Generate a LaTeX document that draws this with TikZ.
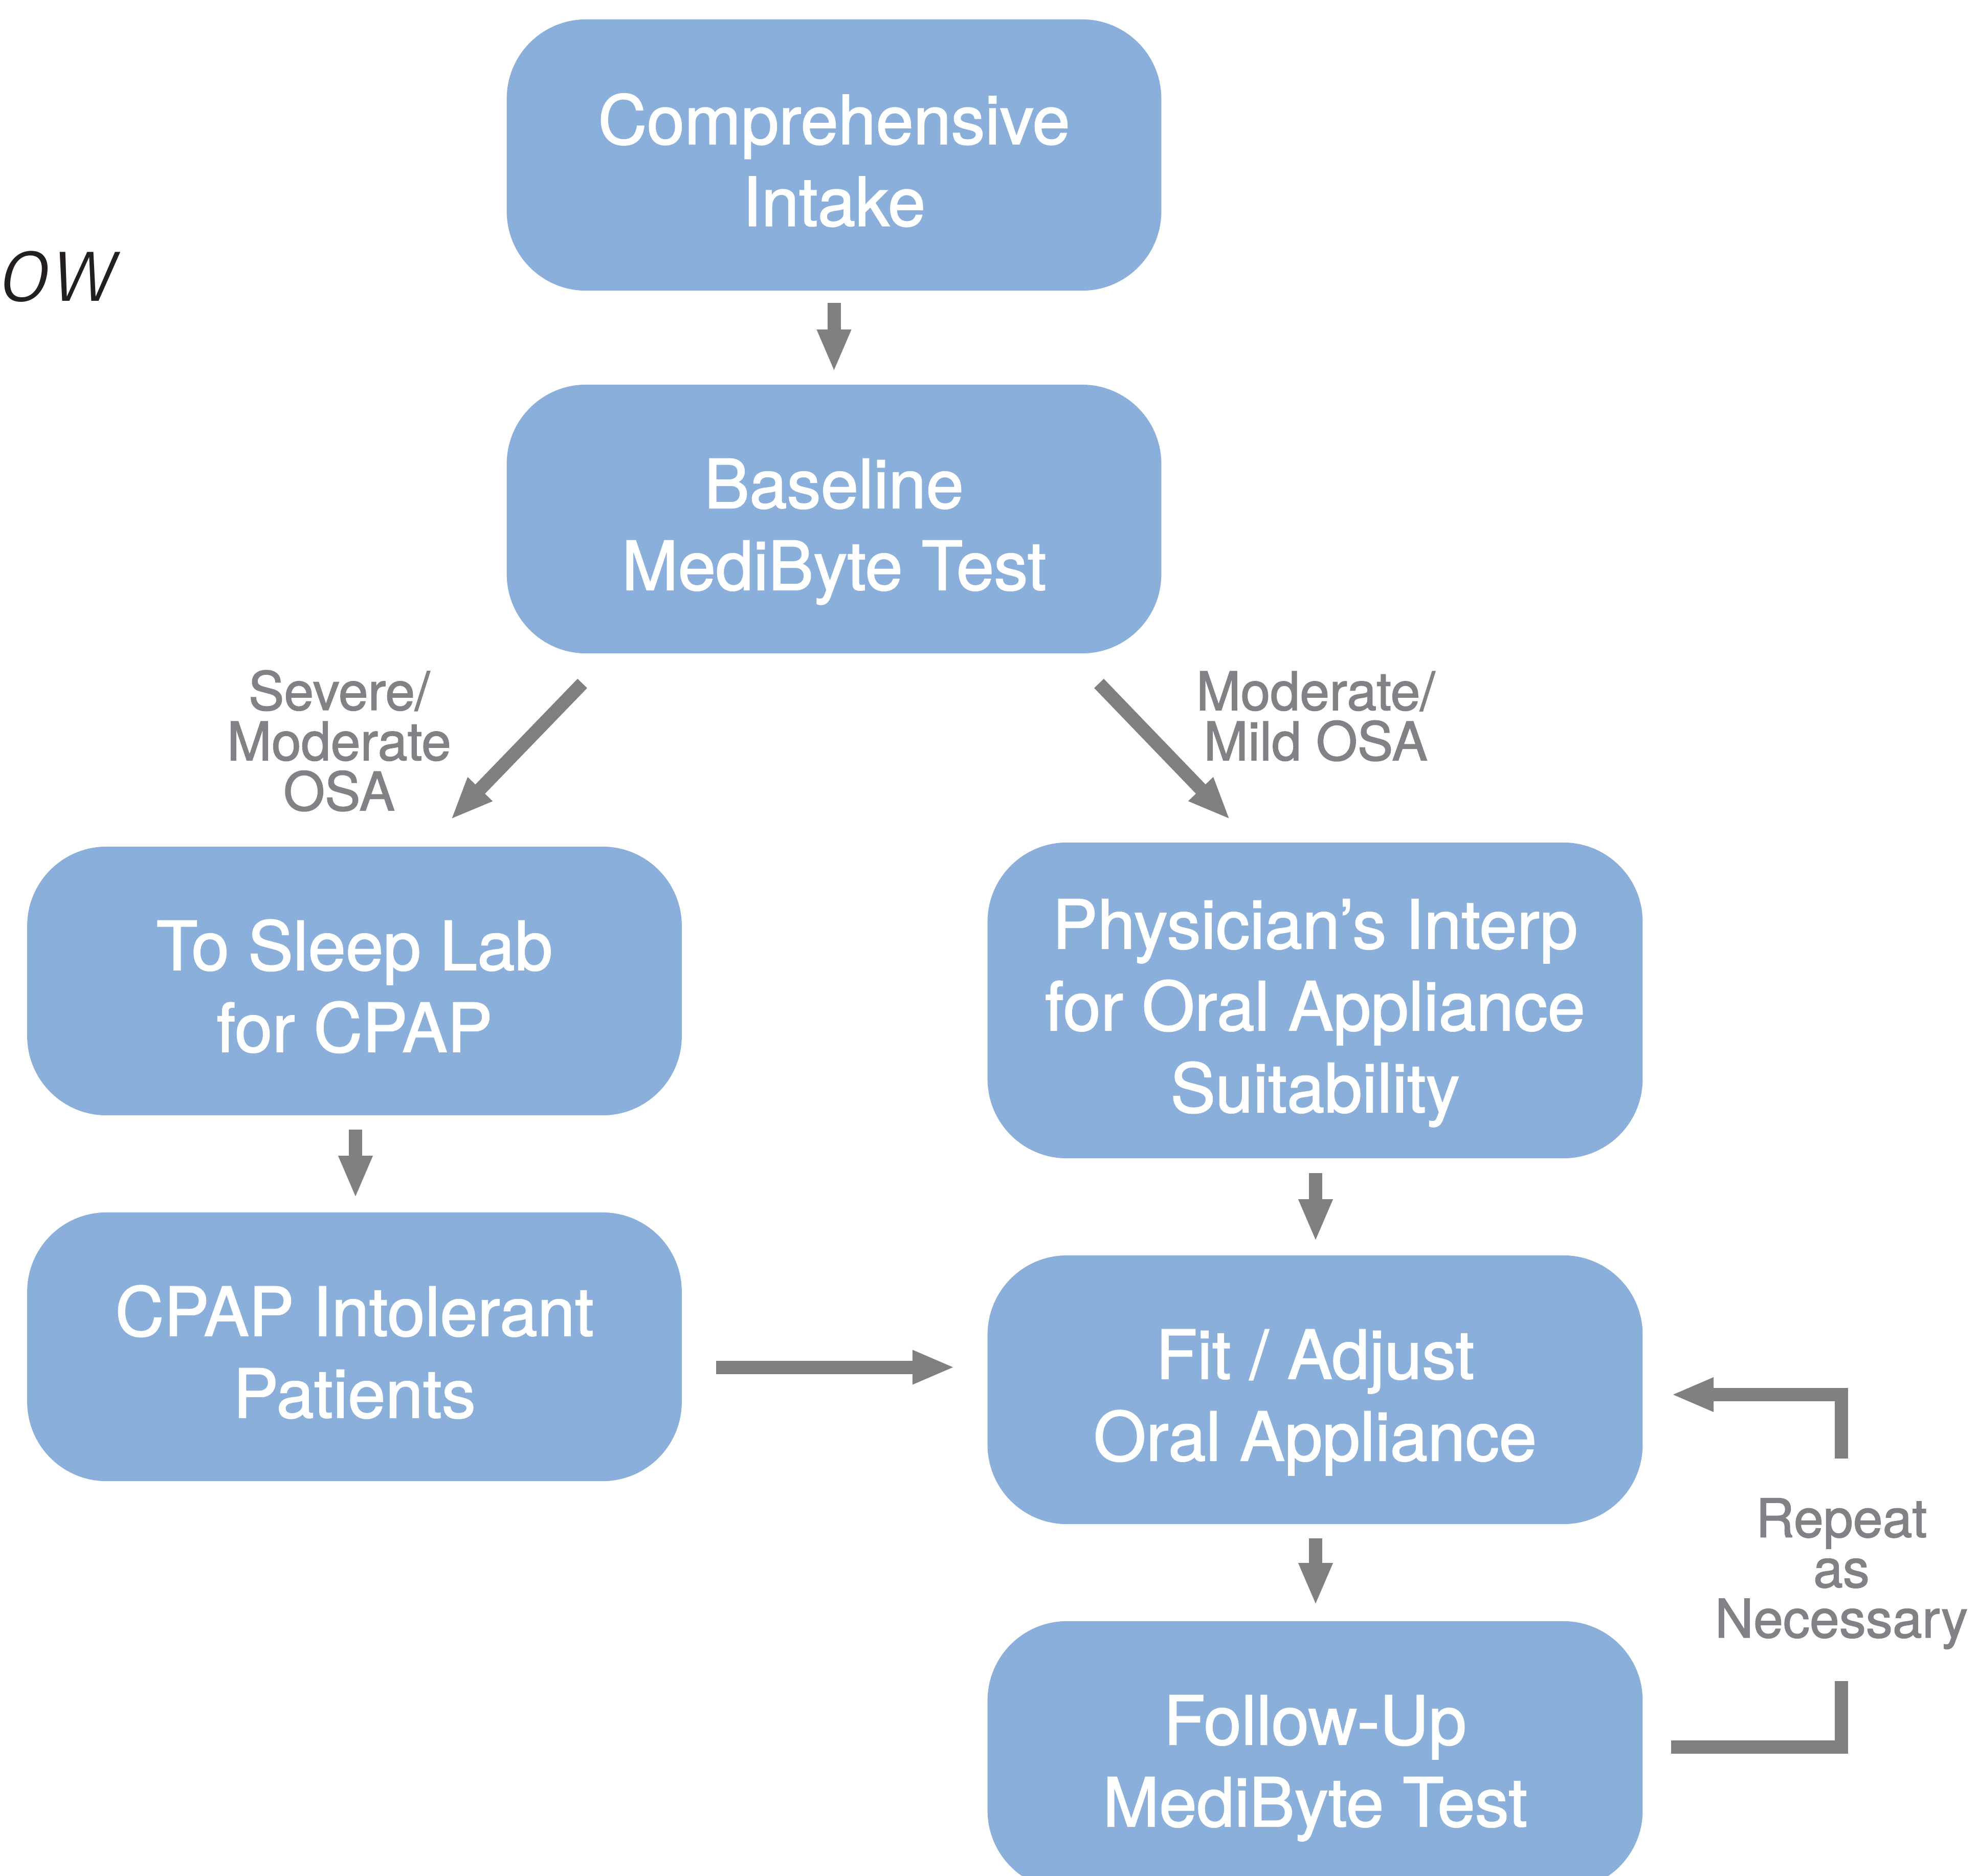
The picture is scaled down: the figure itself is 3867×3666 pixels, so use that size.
\documentclass[tikz,border=0pt]{standalone}
\usepackage{fontspec}
\setmainfont{TeX Gyre Heros}
\newfontfamily\boxface{TeX Gyre Heros}[FakeBold=1.5]
\IfFontExistsTF{Fira Sans Light}
  {\newfontfamily\titleface{Fira Sans Light}[FakeSlant=0.2]}
  {\newfontfamily\titleface{TeX Gyre Heros}[FakeSlant=0.2]}
\usetikzlibrary{arrows.meta,calc}
\definecolor{boxblue}{HTML}{8AAFDB}
\definecolor{arrowgray}{HTML}{808080}
\definecolor{labelgray}{HTML}{808286}
\definecolor{titleink}{HTML}{231F20}
\tikzset{
  flowbox/.style={fill=boxblue, rounded corners=1.55cm, minimum width=12.79cm,
    minimum height=5.25cm, inner sep=0pt, text=white, align=center,
    text depth=0pt, text height=78.8pt,
    font=\boxface\fontsize{37.6pt}{45.5pt}\selectfont},
  threeline/.style={text height=124.3pt},
  grayla/.style={text=labelgray, align=center, inner sep=0pt,
    font=\boxface\fontsize{29.6pt}{27.9pt}\selectfont},
  conn/.style={draw=arrowgray, line width=2.6mm,
    -{Triangle[length=8.3mm,width=6.1mm]}},
  plainline/.style={draw=arrowgray, line width=2.6mm}
}
\begin{document}
\begin{tikzpicture}[x=0.01cm,y=-0.01cm]
\useasboundingbox (0,0) rectangle (3867,3666);
% partial title
\node[anchor=base east, inner sep=0pt, text=titleink,
      font=\titleface\fontsize{52pt}{60pt}\selectfont] (title) at (222,588) {ow};
% boxes
\node[flowbox, minimum height=5.30cm] (b1) at (1630.5,303) {Comprehensive\\Intake};
\node[flowbox] (b2) at (1630.5,1014.5) {Baseline\\MediByte Test};
\node[flowbox] (b3) at (693,1917.5) {To Sleep Lab\\for CPAP};
\node[flowbox] (b4) at (693,2632.5) {CPAP Intolerant\\Patients};
\node[flowbox, threeline, minimum width=12.80cm, minimum height=6.17cm] (b5) at (2571,1955.5) {Physician’s Interp\\for Oral Appliance\\Suitability};
\node[flowbox, minimum width=12.80cm] (b6) at (2571,2716.5) {Fit / Adjust\\Oral Appliance};
\node[flowbox, minimum width=12.80cm] (b7) at (2571,3431.5) {Follow-Up\\MediByte Test};
% labels
\node[grayla] (l1) at (663,1448) {Severe/\\Moderate\\OSA};
\node[grayla] (l2) at (2572,1400) {Moderate/\\Mild OSA};
\node[grayla] (l3) at (3600,3076) {Repeat\\as\\Necessary};
% vertical connectors
\draw[conn] ($(b1.south)+(0,23)$) -- ($(b2.north)+(0,-24)$);
\draw[conn] ($(b3.south)+(2,27)$) -- ($(b4.north)+(2,-27)$);
\draw[conn] ($(b5.south)+(1,28)$) -- ($(b6.north)+(1,-26)$);
\draw[conn] ($(b6.south)+(1,27)$) -- ($(b7.north)+(1,-30)$);
% diagonal connectors
\draw[conn] ($(b2.south)+(-492,58)$) -- ($(b3.north)+(188,-52)$);
\draw[conn] ($(b2.south)+(518,58)$) -- ($(b5.north)+(-166,-44)$);
% horizontal connector
\draw[conn] ($(b4.east)+(66,40)$) -- ($(b6.west)+(-63,-44)$);
% repeat loop
\coordinate (rbot) at ($(b7.east)+(55,-17)$);
\coordinate (rbup) at (3600,3286);
\coordinate (rtdown) at (3600,2851);
\coordinate (rtip) at ($(b6.east)+(55,9.5)$);
\draw[plainline] (rbot) -| (rbup);
\draw[conn] (rtdown) |- (rtip);
\end{tikzpicture}
\end{document}
